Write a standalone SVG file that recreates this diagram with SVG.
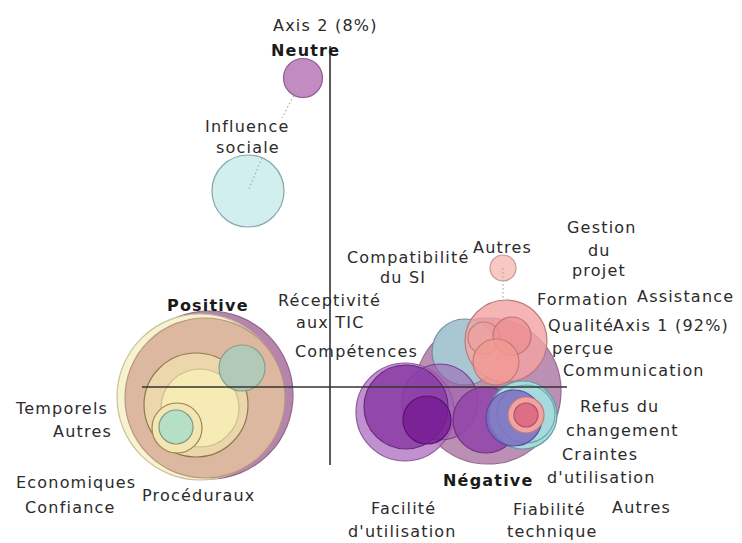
<svg xmlns="http://www.w3.org/2000/svg" width="742" height="543" viewBox="0 0 742 543">
<style>
text{font-family:"DejaVu Sans","Verdana",sans-serif;font-size:16px;fill:#2b2b2b;letter-spacing:1.2px}
.b{font-weight:bold;fill:#1a1a1a}
circle{stroke-width:1.2}
.axis{stroke:#333;stroke-width:1.6;fill:none}
.lead{stroke:#aaa;stroke-width:1.2;stroke-dasharray:1.5 2.5;fill:none}
</style>
<rect width="742" height="543" fill="#fff"/>

<!-- Neutre cluster -->
<g id="neutre">
<circle cx="303" cy="78" r="19.5" fill="#c28bc2" stroke="#8c5f8c"/>
</g>
<g id="influence-sociale">
<circle cx="248" cy="191" r="36" fill="#d2eff0" stroke="#86a6a6"/>
</g>

<!-- Positive cluster -->
<g id="positive">
<circle cx="209" cy="395" r="84" fill="#b685ad" stroke="#90688a"/>
<circle cx="200" cy="397" r="83" fill="#f7f2cf" stroke="#c9c199"/>
<circle cx="205" cy="398" r="80" fill="#dcb8a0" stroke="#b8967f"/>
</g>
<g id="procéduraux">
<circle cx="196" cy="405" r="52" fill="#ecd7ad" stroke="#8f7a50"/>
</g>
<g id="economiques">
<circle cx="200" cy="408" r="39" fill="#f6ebb4" stroke="#cbbd88"/>
</g>
<g id="confiance">
<circle cx="242" cy="368" r="23" fill="#b3c9b7" stroke="#86a08c"/>
</g>
<g id="temporels">
<circle cx="177" cy="428" r="25" fill="#f3e6b2" stroke="#9c8650"/>
</g>
<g id="autres-pos">
<circle cx="176" cy="427" r="17" fill="#b6e0c6" stroke="#7c9a84"/>
</g>

<!-- Negative cluster -->
<g id="negative">
<circle cx="488" cy="391" r="73" fill="#bc8fb5" stroke="#94698d"/>
</g>
<g id="competences">
<circle cx="465" cy="352" r="33" fill="#a9c7d3" stroke="#6f8f9a"/>
</g>
<g id="formation">
<circle cx="506" cy="341" r="41" fill="#f4a3a3" fill-opacity="0.8" stroke="#b97b7b"/>
<circle cx="484" cy="338" r="16" fill="#ef9a9a" fill-opacity="0.55" stroke="#c07c7c"/>
<circle cx="512" cy="336" r="19" fill="#ee8f93" fill-opacity="0.7" stroke="#bf7478"/>
<circle cx="496" cy="362" r="23" fill="#f29a92" fill-opacity="0.8" stroke="#c47a76"/>
</g>
<g id="autres-top">
<circle cx="503" cy="268" r="13" fill="#f8c8c2" stroke="#c39995"/>
</g>
<g id="facilite">
<circle cx="405" cy="412" r="49" fill="#b67cc6" fill-opacity="0.85" stroke="#8d5a9c"/>
<circle cx="440" cy="402" r="38" fill="#9a52b0" fill-opacity="0.5" stroke="#7a3d8e"/>
<circle cx="406" cy="407" r="42" fill="#8a3ba4" fill-opacity="0.85" stroke="#6a2a80"/>
<circle cx="427" cy="420" r="24" fill="#761a92" fill-opacity="0.8" stroke="#5a1270"/>
</g>
<g id="fiabilite">
<circle cx="486" cy="420" r="33" fill="#9447aa" fill-opacity="0.9" stroke="#6f3380"/>
</g>
<g id="refus">
<circle cx="523" cy="415" r="34" fill="#a6dadd" stroke="#5f9ea3"/>
<circle cx="526" cy="414" r="29" fill="none" stroke="#6fa8ad"/>
<circle cx="514" cy="418" r="28" fill="#7d6cc2" fill-opacity="0.85" stroke="#5a4c9a"/>
<circle cx="526" cy="415" r="18" fill="#f0a4a2" stroke="#c07c7c"/>
<circle cx="526" cy="415" r="12" fill="#d8607e" fill-opacity="0.8" stroke="#b04f68"/>
</g>

<!-- connectors: axes and leaders -->
<g id="connectors">
<line class="axis" x1="330" y1="46" x2="330" y2="465"/>
<line class="axis" x1="142" y1="387" x2="567" y2="387"/>
<path class="lead" d="M303 78 L282 118"/>
<path class="lead" d="M262 158 L248 191"/>
<path class="lead" d="M503 268 L503 302"/>
</g>

<!-- labels -->
<text x="273" y="31">Axis 2 (8%)</text>
<text class="b" x="271" y="56">Neutre</text>
<text x="205" y="132">Influence</text>
<text x="216" y="153">sociale</text>
<text x="347" y="263">Compatibilité</text>
<text x="380" y="283">du SI</text>
<text x="473" y="253">Autres</text>
<text x="567" y="233">Gestion</text>
<text x="588" y="256">du</text>
<text x="572" y="276">projet</text>
<text x="278" y="306">Réceptivité</text>
<text x="296" y="328">aux TIC</text>
<text x="537" y="305">Formation</text>
<text x="637" y="302">Assistance</text>
<text x="548" y="331">Qualité</text>
<text x="613" y="331">Axis 1 (92%)</text>
<text x="552" y="354">perçue</text>
<text x="295" y="357">Compétences</text>
<text x="563" y="376">Communication</text>
<text class="b" x="167" y="311">Positive</text>
<text x="16" y="414">Temporels</text>
<text x="53" y="437">Autres</text>
<text x="16" y="488">Economiques</text>
<text x="25" y="513">Confiance</text>
<text x="142" y="501">Procéduraux</text>
<text x="580" y="412">Refus du</text>
<text x="566" y="436">changement</text>
<text x="562" y="460">Craintes</text>
<text x="547" y="483">d'utilisation</text>
<text class="b" x="443" y="486">Négative</text>
<text x="371" y="514">Facilité</text>
<text x="348" y="537">d'utilisation</text>
<text x="513" y="515">Fiabilité</text>
<text x="507" y="537">technique</text>
<text x="612" y="513">Autres</text>
</svg>
